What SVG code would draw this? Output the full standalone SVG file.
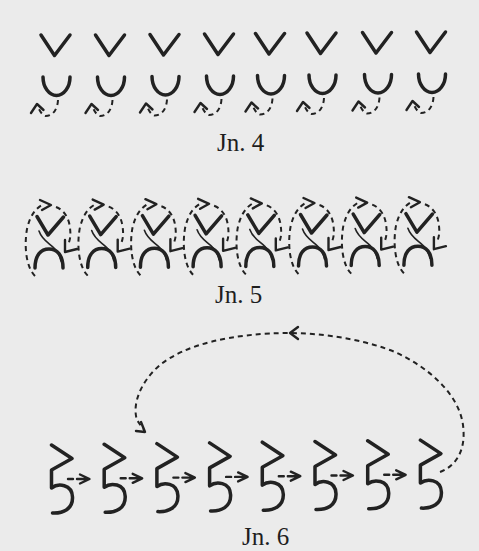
<svg xmlns="http://www.w3.org/2000/svg" xmlns:xlink="http://www.w3.org/1999/xlink" width="479" height="551" viewBox="0 0 479 551">
<style>
.ink{fill:none;stroke:#222;stroke-linecap:round;stroke-linejoin:round}
.thick{stroke-width:3.5}
.med{stroke-width:2.4}
.thin{stroke-width:1.6}
.dash{fill:none;stroke:#222;stroke-width:2;stroke-dasharray:5 4;stroke-linecap:butt}
.lbl{font-family:"Liberation Serif","Times New Roman",serif;font-size:25px;fill:#1e1e1e}
</style>
<defs>
<g id="s4">
<path class="ink thick" d="M-14.5,35 L-1,55.5 L14.5,35"/>
<path class="ink thick" d="M-12.5,77 A13.5,18.5 0 0 0 14.5,77"/>
<path class="dash" d="M2.5,100 C2,110 -3,116 -10,116 C-14,115 -16,110 -18,106"/>
<path class="ink med" d="M-24.5,113 L-18.5,104 L-12,110"/>
</g>
<g id="s5">
<path class="ink thick" d="M37,216.5 L48,235 L63.5,217"/>
<path class="ink thin" d="M39,231 C42,240 49,243 54,248 C58,252 60,256 61,261"/>
<path class="ink thick" d="M35,268 C35,255 41,249 49,249 C57,249 63,255 63,268"/>
<path class="dash" d="M35,276 C26,267 24,246 27,229 C30,216 35,209 42,205"/>
<path class="ink med" d="M40,200 L51,205 L42,210"/>
<path class="dash" d="M56,207 C64,210 69,218 70,228 C71,236 70,240 68,245"/>
<path class="ink med" d="M65,240 L65,252 L77,249"/>
</g>
<g id="s6">
<path class="ink thick" d="M51.5,445 L72,458.5 L51.5,470 L51.5,488 C58,483 72,484 72.5,497 C73,509 63,513.5 52.5,513"/>
</g>
<g id="a6">
<path class="ink med" d="M68,479 L73,479 M77,479 L88,479 M80,474.5 L89.5,479 L80,483.5"/>
</g>
</defs>
<rect x="0" y="0" width="479" height="551" fill="#ebebeb"/>

<g id="jn4">
<g id="n4-1"><use xlink:href="#s4" transform="translate(55.5,0)"/></g>
<g id="n4-2"><use xlink:href="#s4" transform="translate(110,0)"/></g>
<g id="n4-3"><use xlink:href="#s4" transform="translate(164.5,-0.5)"/></g>
<g id="n4-4"><use xlink:href="#s4" transform="translate(219,-1)"/></g>
<g id="n4-5"><use xlink:href="#s4" transform="translate(270,-1.5)"/></g>
<g id="n4-6"><use xlink:href="#s4" transform="translate(321.5,-2)"/></g>
<g id="n4-7"><use xlink:href="#s4" transform="translate(377,-2.5)"/></g>
<g id="n4-8"><use xlink:href="#s4" transform="translate(431,-3)"/></g>
<text class="lbl" x="217" y="151">Jn. 4</text>
</g>

<g id="jn5">
<g id="n5-1"><use xlink:href="#s5"/></g>
<g id="n5-2"><use xlink:href="#s5" transform="translate(52.7,-0.4)"/></g>
<g id="n5-3"><use xlink:href="#s5" transform="translate(105.4,-0.8)"/></g>
<g id="n5-4"><use xlink:href="#s5" transform="translate(158.1,-1.2)"/></g>
<g id="n5-5"><use xlink:href="#s5" transform="translate(210.8,-1.6)"/></g>
<g id="n5-6"><use xlink:href="#s5" transform="translate(263.5,-2)"/></g>
<g id="n5-7"><use xlink:href="#s5" transform="translate(316.2,-2.4)"/></g>
<g id="n5-8"><use xlink:href="#s5" transform="translate(368.9,-2.8)"/></g>
<text class="lbl" x="215" y="303">Jn. 5</text>
</g>

<g id="jn6">
<g id="n6-1"><use xlink:href="#s6"/></g>
<g id="n6-2"><use xlink:href="#s6" transform="translate(52.7,-0.7)"/></g>
<g id="n6-3"><use xlink:href="#s6" transform="translate(105.4,-1.4)"/></g>
<g id="n6-4"><use xlink:href="#s6" transform="translate(158.1,-2.1)"/></g>
<g id="n6-5"><use xlink:href="#s6" transform="translate(210.8,-2.8)"/></g>
<g id="n6-6"><use xlink:href="#s6" transform="translate(263.5,-3.5)"/></g>
<g id="n6-7"><use xlink:href="#s6" transform="translate(316.2,-4.2)"/></g>
<g id="n6-8"><use xlink:href="#s6" transform="translate(368.9,-4.9)"/></g>
<g id="connectors">
<use xlink:href="#a6"/>
<use xlink:href="#a6" transform="translate(52.7,-0.7)"/>
<use xlink:href="#a6" transform="translate(105.4,-1.4)"/>
<use xlink:href="#a6" transform="translate(158.1,-2.1)"/>
<use xlink:href="#a6" transform="translate(210.8,-2.8)"/>
<use xlink:href="#a6" transform="translate(263.5,-3.5)"/>
<use xlink:href="#a6" transform="translate(316.2,-4.2)"/>
<path class="dash" d="M440,472 C458,465 466,448 463,425 C459,395 430,368 395,352 C370,342 335,334 292,333 C230,333 185,345 160,365 C140,382 132,405 137,420 L143,429"/>
<path class="ink med" d="M298,327 L290,333 L298,339"/>
<path class="ink med" d="M141,422 L145,432 L136,431"/>
</g>
<text class="lbl" x="242" y="545">Jn. 6</text>
</g>
</svg>
